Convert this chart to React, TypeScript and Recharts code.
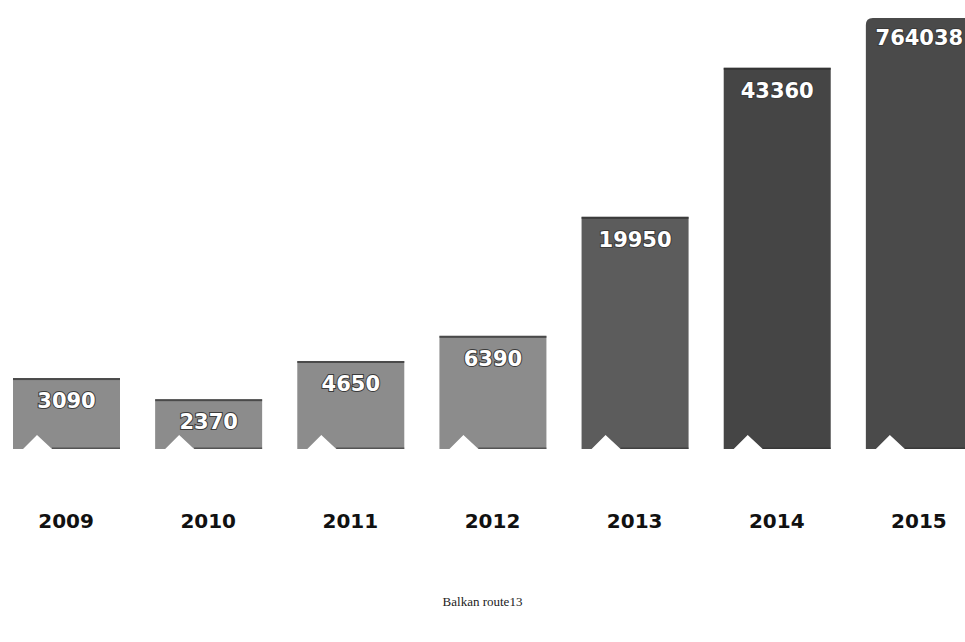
import React from 'react';
import { BarChart, Bar, XAxis, YAxis, Cell } from 'recharts';

// Years and arrivals along the Balkan route
const years = ['2009', '2010', '2011', '2012', '2013', '2014', '2015'];
const arrivals = [3090, 2370, 4650, 6390, 19950, 43360, 764038];
// The infographic bars are not to scale: heights, as % of the plot height
const barHeights = [15.8, 11.1, 19.6, 25.2, 51.7, 84.9, 96.0];

const barColors = ['#8c8c8c', '#8c8c8c', '#8c8c8c', '#8c8c8c', '#5c5c5c', '#454545', '#4a4a4a'];
const topRadius = [0, 0, 0, 0, 0, 0, 7];

const data = years.map((year, i) => ({
    year,
    value: arrivals[i],
    height: barHeights[i],
}));

const NotchedBar = (props: any) => {
    const { x, y, width, height, fill, payload, index } = props;
    const r = topRadius[index] || 0;
    const bottom = y + height;
    const d =
        `M${x},${y + r} Q${x},${y} ${x + r},${y} H${x + width - r} Q${x + width},${y} ${x + width},${y + r} ` +
        `V${bottom} H${x + 39} L${x + 24},${bottom - 14} L${x + 10},${bottom} H${x} Z`;
    return (
        <g>
            <path d={d} fill={fill} />
            {r === 0 && <rect x={x} y={y} width={width} height={2} fill="#2e2e2e" opacity={0.7} />}
            <rect x={x + 39} y={bottom - 1.5} width={width - 39} height={1.5} fill="#2e2e2e" opacity={0.6} />
            <text
                x={x + width / 2}
                y={y + (r ? 27 : 30)}
                textAnchor="middle"
                fill="#ffffff"
                stroke="#3a3a3a"
                strokeWidth={2}
                paintOrder="stroke"
                fontFamily="DejaVu Sans"
                fontWeight="bold"
                fontSize={21}
            >
                {payload.value}
            </text>
        </g>
    );
};

const YearTick = (props: any) => {
    const { x, y, payload } = props;
    return (
        <text x={x} y={y} dy={71} textAnchor="middle" fill="#111" fontFamily="DejaVu Sans" fontWeight="bold" fontSize={20}>
            {payload.value}
        </text>
    );
};

export default function App() {
    return (
        <div style={{ position: 'absolute', left: 0, top: 0, width: 965, height: 642, overflow: 'hidden', background: '#fff' }}>
            <div style={{ position: 'absolute', left: -5, top: 0 }}>
                <BarChart width={995} height={642} data={data} margin={{ top: 0, right: 0, bottom: 0, left: 0 }}>
                    <XAxis dataKey="year" height={193} axisLine={false} tickLine={false} tick={<YearTick />} interval={0} />
                    <YAxis hide domain={[0, 100]} />
                    <Bar dataKey="height" barSize={107} shape={<NotchedBar />} isAnimationActive={false}>
                        {data.map((d, i) => (
                            <Cell key={d.year} fill={barColors[i]} />
                        ))}
                    </Bar>
                </BarChart>
            </div>
            <div
                style={{
                    position: 'absolute',
                    top: 594,
                    left: 0,
                    width: 965,
                    textAlign: 'center',
                    fontFamily: '"Liberation Serif", serif',
                    fontSize: 13,
                    color: '#222',
                }}
            >
                Balkan route13
            </div>
        </div>
    );
}
